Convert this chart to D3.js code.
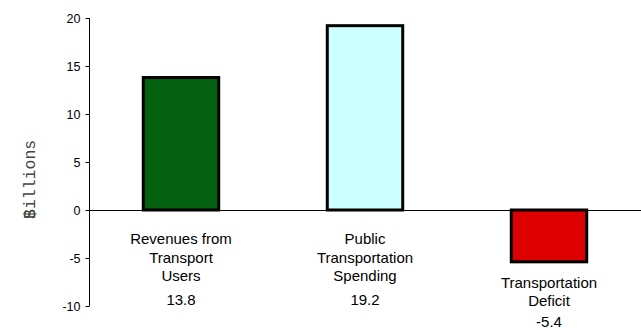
<!DOCTYPE html>
<html>
<head>
<meta charset="utf-8">
<script src="https://cdn.jsdelivr.net/npm/d3@7"></script>
<style>
  html, body { margin: 0; padding: 0; background: #fff; }
  svg { display: block; }
</style>
</head>
<body>
<svg id="chart" width="641" height="330"></svg>
<script>
// Transportation budget, $ billions
const categories = ["Revenues from Transport Users", "Public Transportation Spending", "Transportation Deficit"];
const labelLines = [["Revenues from", "Transport", "Users"], ["Public", "Transportation", "Spending"], ["Transportation", "Deficit"]];
const values = [13.8, 19.2, -5.4];
const valueLabels = ["13.8", "19.2", "-5.4"];
const barColors = ["#03600e", "#ccffff", "#dd0000"];
const yTicks = [-10, -5, 0, 5, 10, 15, 20];

const svg = d3.select("#chart");
const font = "Liberation Sans, Arial, sans-serif";

const y = d3.scaleLinear().domain([-10, 20]).range([306, 18]);
const x = d3.scaleBand().domain(categories).range([89, 641]).paddingInner(0.59).paddingOuter(0.295);

// Value axis on the left (plain hyphen for negatives)
const yAxis = d3.axisLeft(y).tickValues(yTicks).tickSize(4).tickPadding(5).tickFormat(d => String(d));
const gy = svg.append("g").attr("transform", "translate(89.5,0)").call(yAxis);
gy.select(".domain").attr("stroke", "#000").attr("d", `M0,${y(20)}V${y(-10)}`);
gy.selectAll(".tick line").attr("stroke", "#000");
gy.selectAll(".tick text").attr("font-family", font).attr("font-size", 12.5).attr("fill", "#000");

// Axis title: dollar sign set over the B of "Billions"
const title = svg.append("g").attr("transform", "translate(35,219) rotate(-90)")
  .attr("font-family", "Liberation Mono, Courier New, monospace").attr("font-size", 16.5).attr("fill", "#444");
title.append("text").attr("x", 0).attr("y", 0).text("Billions");
title.append("text").attr("x", 0).attr("y", 0).text("$");

// Bars
svg.append("g").selectAll("rect").data(values).join("rect")
  .attr("x", (d, i) => x(categories[i]))
  .attr("width", x.bandwidth())
  .attr("y", d => y(Math.max(0, d)))
  .attr("height", d => Math.abs(y(d) - y(0)))
  .attr("fill", (d, i) => barColors[i])
  .attr("stroke", "#000")
  .attr("stroke-width", 3);

// Zero line
svg.append("line")
  .attr("x1", 89).attr("x2", 641)
  .attr("y1", Math.round(y(0)) + 0.5).attr("y2", Math.round(y(0)) + 0.5)
  .attr("stroke", "#000").attr("stroke-width", 1);

// Category names and values below each bar
const labels = svg.append("g").attr("font-family", font).attr("font-size", 15).attr("fill", "#000").attr("text-anchor", "middle");
values.forEach((v, i) => {
  const cx = x(categories[i]) + x.bandwidth() / 2;
  const base = v >= 0 ? y(0) + 34 : y(v) + 26;
  const lines = labelLines[i];
  lines.forEach((t, j) => {
    labels.append("text").attr("x", cx).attr("y", base + j * 18.5).text(t);
  });
  const vy = v >= 0 ? base + 61 : base + (lines.length - 1) * 18.5 + 21;
  labels.append("text").attr("x", cx).attr("y", vy).text(valueLabels[i]);
});
</script>
</body>
</html>
